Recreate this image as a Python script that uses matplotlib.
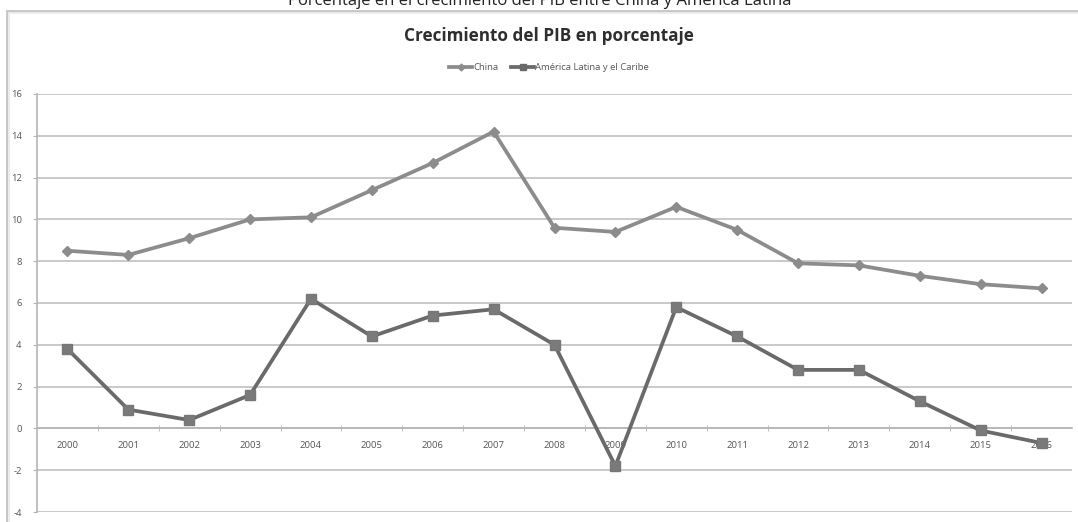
import matplotlib
matplotlib.use('Agg')
import matplotlib.pyplot as plt
from matplotlib.patches import Rectangle
from matplotlib.lines import Line2D

plt.rcParams['font.family'] = ['Open Sans', 'DejaVu Sans']
plt.rcParams['axes.unicode_minus'] = False

# crecimiento del PIB (%)
years = ['2000', '2001', '2002', '2003', '2004', '2005', '2006', '2007', '2008',
         '2009', '2010', '2011', '2012', '2013', '2014', '2015', '2016']
china = [8.5, 8.3, 9.1, 10.0, 10.1, 11.4, 12.7, 14.2, 9.6,
         9.4, 10.6, 9.5, 7.9, 7.8, 7.3, 6.9, 6.7]
latam = [3.8, 0.9, 0.4, 1.6, 6.2, 4.4, 5.4, 5.7, 4.0,
         -1.8, 5.8, 4.4, 2.8, 2.8, 1.3, -0.1, -0.7]
yticks = [-4, -2, 0, 2, 4, 6, 8, 10, 12, 14, 16]

W, H = 1078, 522
fig = plt.figure(figsize=(W / 100, H / 100), dpi=100)
fig.patch.set_facecolor('white')

# outer title, partly cut by the top edge
fig.text(540 / W, 1 - 5 / H, 'Porcentaje en el crecimiento del PIB entre China y América Latina',
         ha='center', va='baseline', fontsize=12, color='#222222')

# chart frame
fig.patches.append(Rectangle((7 / W, -0.05), 1.2, 1 - 11 / H + 0.05, transform=fig.transFigure,
                             fill=False, edgecolor='#c4c4c4', linewidth=2.0, zorder=0))
fig.patches.append(Rectangle((9 / W, -0.05), 1.2, 1 - 13 / H + 0.05, transform=fig.transFigure,
                             fill=False, edgecolor='#ececec', linewidth=1.5, zorder=0))

fig.text(549 / W, 1 - 36 / H, 'Crecimiento del PIB en porcentaje', ha='center', va='center',
         fontsize=12.3, fontweight='bold', color='#2e2e2e')

ax = fig.add_axes([37 / W, 1 - 512 / H, (1072 - 37) / W, (512 - 94) / H])
x = list(range(len(years)))
ax.plot(x, china, color='#8c8c8c', lw=2.7, marker='D', ms=5, mec='#8c8c8c', mfc='#8c8c8c',
        label='China', zorder=3)
ax.plot(x, latam, color='#6a6a6a', lw=2.7, marker='s', ms=6.5, mec='#777777', mfc='#7a7a7a',
        label='América Latina y el Caribe', zorder=3)

ax.set_xlim(-0.5, len(years) - 0.5)
ax.set_ylim(-4, 16)
ax.set_yticks(yticks)
ax.set_yticklabels([str(v) for v in yticks])
ax.yaxis.grid(True, color='#c9c9c9', lw=1.4)
ax.set_axisbelow(True)

for s in ['top', 'right']:
    ax.spines[s].set_visible(False)
ax.spines['left'].set_color('#b5b5b5')
ax.spines['left'].set_linewidth(1.2)
ax.spines['bottom'].set_position(('data', 0))
ax.spines['bottom'].set_color('#b5b5b5')
ax.spines['bottom'].set_linewidth(1.2)

ax.set_xticks(x)
ax.set_xticklabels(years)
ax.set_xticks([i + 0.5 for i in x[:-1]], minor=True)
ax.tick_params(axis='x', which='major', length=0, labelsize=6.8, labelcolor='#555555', pad=9)
ax.tick_params(axis='x', which='minor', length=4, direction='inout', color='#b5b5b5')
ax.tick_params(axis='y', length=3, color='#b5b5b5', labelsize=6.8, labelcolor='#555555', pad=8)

handles = [Line2D([], [], color='#8c8c8c', lw=2.7, marker='D', ms=3.5),
           Line2D([], [], color='#6a6a6a', lw=2.7, marker='s', ms=4)]
fig.legend(handles, ['China', 'América Latina y el Caribe'], loc='center',
           bbox_to_anchor=(549 / W, 1 - 68 / H), ncol=2, frameon=False, fontsize=6.8,
           handlelength=2.5, handletextpad=0.1, columnspacing=1.3, labelcolor='#555555')

fig.savefig('out.png', dpi=100)
